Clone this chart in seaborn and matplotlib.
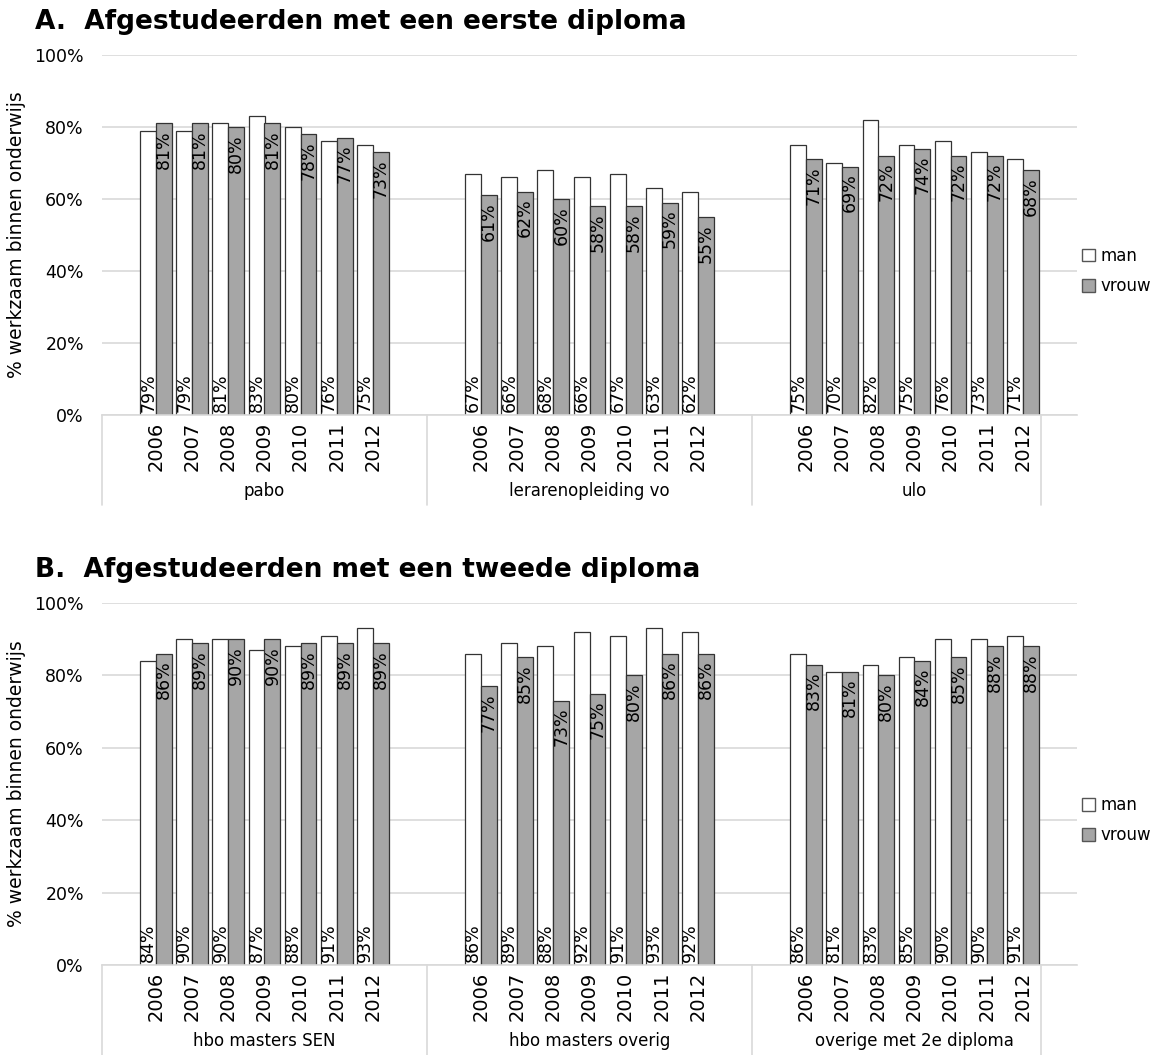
import numpy as np
import pandas as pd
import seaborn as sns
import matplotlib.pyplot as plt
from matplotlib.patches import Patch

years = [2006, 2007, 2008, 2009, 2010, 2011, 2012]

# panel A: eerste diploma
groups_a = ["pabo", "lerarenopleiding vo", "ulo"]
man_a = [[79, 79, 81, 83, 80, 76, 75],
         [67, 66, 68, 66, 67, 63, 62],
         [75, 70, 82, 75, 76, 73, 71]]
vrouw_a = [[81, 81, 80, 81, 78, 77, 73],
           [61, 62, 60, 58, 58, 59, 55],
           [71, 69, 72, 74, 72, 72, 68]]

# panel B: tweede diploma
groups_b = ["hbo masters SEN", "hbo masters overig", "overige met 2e diploma"]
man_b = [[84, 90, 90, 87, 88, 91, 93],
         [86, 89, 88, 92, 91, 93, 92],
         [86, 81, 83, 85, 90, 90, 91]]
vrouw_b = [[86, 89, 90, 90, 89, 89, 89],
           [77, 85, 73, 75, 80, 86, 86],
           [83, 81, 80, 84, 85, 88, 88]]

titles = ["A.  Afgestudeerden met een eerste diploma",
          "B.  Afgestudeerden met een tweede diploma"]

sns.set_style("white")
plt.rcParams['font.family'] = ['DejaVu Sans']
for key in ['text.color', 'axes.labelcolor', 'xtick.color', 'ytick.color']:
    plt.rcParams[key] = 'black'

GRID = '#d9d9d9'
GREY = '#a6a6a6'
EDGE = '#333333'


def make_df(man, vrouw):
    rows = []
    for g in range(len(man)):
        for i, yr in enumerate(years):
            slot = g * 9 + 1 + i  # one empty slot on each side of a group
            rows.append((slot, yr, 'man', man[g][i]))
            rows.append((slot, yr, 'vrouw', vrouw[g][i]))
    return pd.DataFrame(rows, columns=['slot', 'jaar', 'geslacht', 'waarde'])


def draw_panel(ax, groups, man, vrouw):
    df = make_df(man, vrouw)
    sns.barplot(data=df, x='slot', y='waarde', hue='geslacht', hue_order=['man', 'vrouw'],
                palette={'man': 'white', 'vrouw': GREY}, native_scale=True, width=0.88,
                edgecolor=EDGE, linewidth=0.9, errorbar=None, legend=False, ax=ax)

    # value labels: man at the bottom, vrouw at the top of the bar
    for k, cont in enumerate(ax.containers):
        for bar in cont:
            h = bar.get_height()
            xc = bar.get_x() + bar.get_width() / 2
            if k == 0:
                ax.annotate(f"{h:.0f}%", (xc, 0), xytext=(0, 2), textcoords='offset points',
                            rotation=90, ha='center', va='bottom', fontsize=12.5)
            else:
                ax.annotate(f"{h:.0f}%", (xc, h), xytext=(0, -5), textcoords='offset points',
                            rotation=90, ha='center', va='top', fontsize=12.5)

    ax.set_xlim(-0.5, 26.5)
    ax.set_ylim(0, 100)
    ax.set_yticks(range(0, 101, 20))
    ax.set_yticklabels([f"{v}%" for v in range(0, 101, 20)], fontsize=12.5)
    slots = sorted(df['slot'].unique())
    ax.set_xticks(slots)
    ax.set_xticklabels([str(y) for y in years] * len(groups), rotation=90, fontsize=14)
    ax.tick_params(axis='both', length=0)
    ax.tick_params(axis='y', pad=13)
    ax.tick_params(axis='x', pad=5)
    ax.set_xlabel('')
    ax.set_ylabel('% werkzaam binnen onderwijs', fontsize=13.5, labelpad=6)
    ax.yaxis.grid(True, color=GRID, lw=1.2)
    ax.set_axisbelow(True)
    for s in ['top', 'right', 'left']:
        ax.spines[s].set_visible(False)
    ax.spines['bottom'].set_color(GRID)
    ax.spines['bottom'].set_linewidth(1.2)

    trans = ax.get_xaxis_transform()
    for xs in [-0.5, 8.5, 17.5, 25.5]:
        ax.plot([xs, xs], [0, -0.25], transform=trans, clip_on=False, color=GRID, lw=1.2)
    for g, name in enumerate(groups):
        ax.text(g * 9 + 4, -0.21, name, transform=trans, ha='center', va='center', fontsize=12)

    handles = [Patch(facecolor='white', edgecolor='#555555', label='man'),
               Patch(facecolor=GREY, edgecolor='#555555', label='vrouw')]
    ax.legend(handles=handles, loc='center left', bbox_to_anchor=(0.998, 0.40), frameon=False,
              fontsize=12, handlelength=0.8, handleheight=0.8, handletextpad=0.3,
              labelspacing=0.75, borderaxespad=0)


fig = plt.figure(figsize=(11.69, 10.55), dpi=100)
W, H = 1169, 1055
ax_a = fig.add_axes([102 / W, 1 - 415 / H, 975 / W, 360 / H])
ax_b = fig.add_axes([102 / W, 1 - 965 / H, 975 / W, 362 / H])

draw_panel(ax_a, groups_a, man_a, vrouw_a)
draw_panel(ax_b, groups_b, man_b, vrouw_b)

fig.text(35 / W, 1 - 22 / H, titles[0], fontsize=19, fontweight='bold', va='center', ha='left')
fig.text(35 / W, 1 - 570 / H, titles[1], fontsize=19, fontweight='bold', va='center', ha='left')

fig.savefig('out.png', dpi=100)
